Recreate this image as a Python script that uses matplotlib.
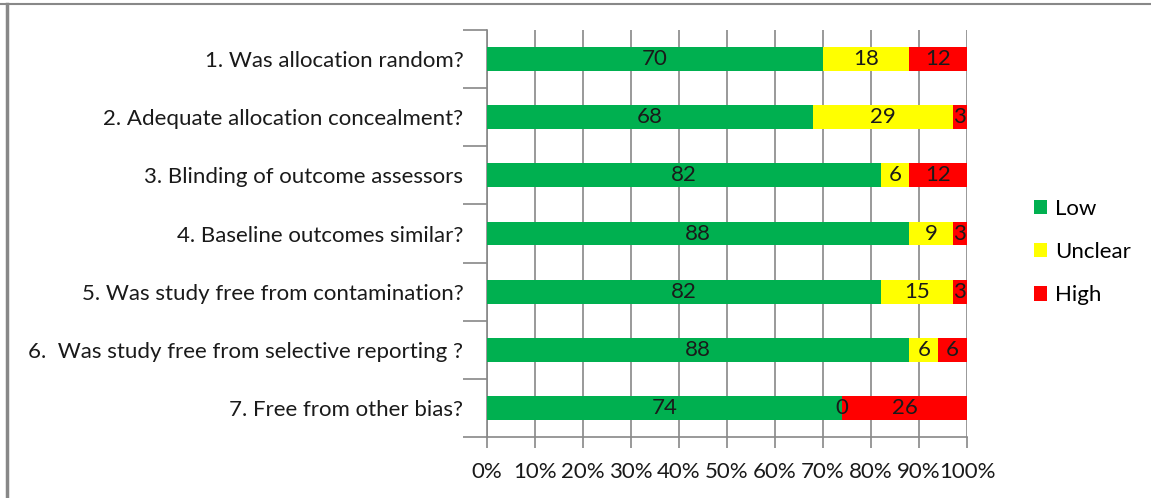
import matplotlib
matplotlib.use("Agg")
import matplotlib.pyplot as plt
from matplotlib.lines import Line2D
from matplotlib.patches import Patch
import numpy as np

categories = [
    "1. Was allocation random?",
    "2. Adequate allocation concealment?",
    "3. Blinding of outcome assessors",
    "4. Baseline outcomes similar?",
    "5. Was study free from contamination?",
    "6.  Was study free from selective reporting ?",
    "7. Free from other bias?",
]
low = [70, 68, 82, 88, 82, 88, 74]
unclear = [18, 29, 6, 9, 15, 6, 0]
high = [12, 3, 12, 3, 3, 6, 26]
series_names = ["Low", "Unclear", "High"]
colors = ["#00B050", "#FFFF00", "#FF0000"]
xticks = [0, 10, 20, 30, 40, 50, 60, 70, 80, 90, 100]
xticklabels = ["0%", "10%", "20%", "30%", "40%", "50%", "60%", "70%", "80%", "90%", "100%"]

plt.rcParams['font.family'] = ['Lato', 'DejaVu Sans']
FS = 16
TXT = "#1a1a1a"

W, H = 1151, 498
fig = plt.figure(figsize=(W / 100, H / 100), dpi=100)
ax = fig.add_axes([487 / W, 1 - 437 / H, 480 / W, 407 / H])

y = np.arange(len(categories))
left = np.zeros(len(categories))
handles = []
for vals, name, col in zip([low, unclear, high], series_names, colors):
    vals = np.array(vals, dtype=float)
    ax.barh(y, vals, left=left, height=0.41, color=col, zorder=3)
    for yi, (l, v) in enumerate(zip(left, vals)):
        ax.text(l + v / 2, yi, f"{int(v)}", ha="center", va="center",
                fontsize=FS, color=TXT, zorder=4)
    left = left + vals
    handles.append(Patch(facecolor=col, edgecolor="none", label=name))

ax.set_xlim(0, 100)
ax.set_ylim(len(categories) - 0.5, -0.5)
ax.set_xticks(xticks)
ax.set_xticklabels(xticklabels, fontsize=FS, color=TXT)
ax.set_yticks(y)
ax.set_yticklabels(categories, fontsize=FS, color=TXT)
ax.set_yticks(np.arange(-0.5, len(categories), 1.0), minor=True)
ax.tick_params(axis="y", which="major", length=0, pad=17)
ax.tick_params(axis="y", which="minor", length=17, width=1.2, color="#888888")
ax.tick_params(axis="x", which="major", length=8, width=1.2, color="#888888", pad=10)
ax.grid(axis="x", color="#888888", linewidth=1.2, zorder=0)
for s in ["top", "right"]:
    ax.spines[s].set_visible(False)
for s in ["left", "bottom"]:
    ax.spines[s].set_color("#888888")
    ax.spines[s].set_linewidth(1.2)

fig.legend(handles=handles, loc="center left", bbox_to_anchor=(1034 / W, 1 - 252 / H),
           frameon=False, fontsize=FS, handlelength=0.6, handleheight=0.6,
           handletextpad=0.35, labelspacing=1.05, borderaxespad=0, borderpad=0)

fig.add_artist(Line2D([0, 1], [1 - 4 / H, 1 - 4 / H], transform=fig.transFigure,
                      color="#888888", linewidth=1.5))
fig.add_artist(Line2D([6.5 / W, 6.5 / W], [0, 1 - 4 / H], transform=fig.transFigure,
                      color="#888888", linewidth=2.5))

fig.savefig("out.png", dpi=100)
